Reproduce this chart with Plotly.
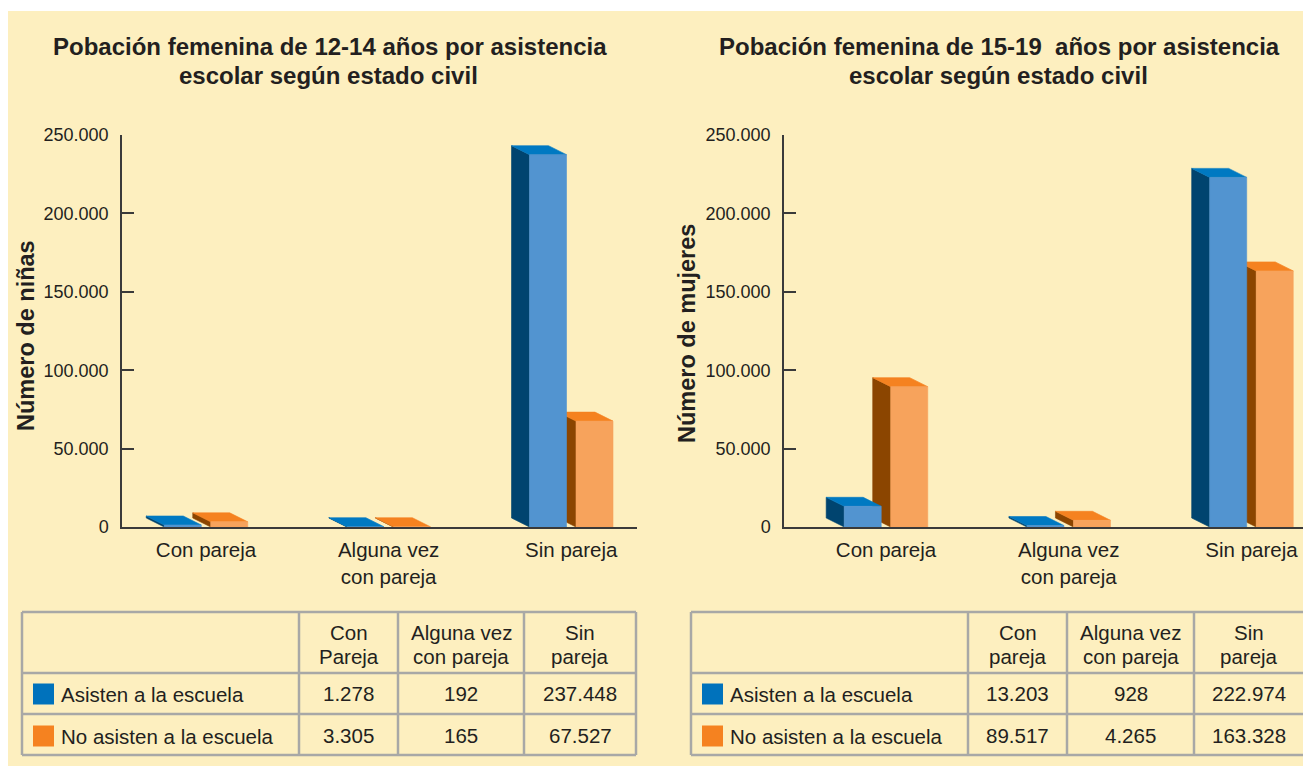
import plotly.graph_objects as go

W, H = 1303, 769

# ---------------- data ----------------
categorias = ["Con pareja", "Alguna vez<br>con pareja", "Sin pareja"]
asisten_12_14 = [1278, 192, 237448]
no_asisten_12_14 = [3305, 165, 67527]
asisten_15_19 = [13203, 928, 222974]
no_asisten_15_19 = [89517, 4265, 163328]
y_tickvals = [0, 50000, 100000, 150000, 200000, 250000]
y_ticktext = ["0", "50.000", "100.000", "150.000", "200.000", "250.000"]
titulo_12_14 = ["Pobación femenina de 12-14 años por asistencia", "escolar según estado civil"]
titulo_15_19 = ["Pobación femenina de 15-19  años por asistencia", "escolar según estado civil"]
ytitulo_12_14 = "Número de niñas"
ytitulo_15_19 = "Número de mujeres"
tabla_cols_12_14 = [["Con", "Pareja"], ["Alguna vez", "con pareja"], ["Sin", "pareja"]]
tabla_cols_15_19 = [["Con", "pareja"], ["Alguna vez", "con pareja"], ["Sin", "pareja"]]
series = ["Asisten a la escuela", "No asisten a la escuela"]

# ---------------- style ----------------
FONT = "Liberation Sans, Arial, Helvetica, sans-serif"
TXT = "#231F20"
CREAM = "#FDEFBF"
BLUE = dict(front="#5294D0", top="#0079C2", side="#00446F", legend="#0072BC")
ORANGE = dict(front="#F7A35C", top="#F58220", side="#8B4500", legend="#F58220")
GRID = "#A8A8A6"
AX = "#3A3A3A"

def px(x):
    return x / W

def py(y):
    return 1 - y / H

fig = go.Figure()

# bar geometry (in category units / value units)
HALF_GAP = 0.026
BAR_W = 0.2026
DX = -0.0986
DY = 5740


def add_bar(xa, ya, x0, x1, v, col):
    polys = [
        ([x0, x0, x0 + DX, x0 + DX, x0], [0, v, v + DY, DY, 0], col["side"]),
        ([x0, x1, x1 + DX, x0 + DX, x0], [v, v, v + DY, v + DY, v], col["top"]),
        ([x0, x1, x1, x0, x0], [0, 0, v, v, 0], col["front"]),
    ]
    for xs, ys, c in polys:
        fig.add_trace(go.Scatter(x=xs, y=ys, xaxis=xa, yaxis=ya, mode="lines",
                                 fill="toself", fillcolor=c,
                                 line=dict(width=0.6, color=c),
                                 hoverinfo="skip", showlegend=False))


def add_chart(xa, ya, asisten, no_asisten):
    for i in range(len(categorias)):
        c = i
        add_bar(xa, ya, c + HALF_GAP, c + HALF_GAP + BAR_W, no_asisten[i], ORANGE)
        add_bar(xa, ya, c - HALF_GAP - BAR_W, c - HALF_GAP, asisten[i], BLUE)


add_chart("x", "y", asisten_12_14, no_asisten_12_14)
add_chart("x2", "y2", asisten_15_19, no_asisten_15_19)

yaxis_common = dict(range=[0, 250000], tickvals=y_tickvals, ticktext=y_ticktext,
                    showgrid=False, zeroline=False, showline=True, linecolor=AX,
                    linewidth=1.5, ticks="inside", ticklen=12, tickwidth=1.5,
                    tickcolor=AX, tickfont=dict(family=FONT, size=18, color=TXT),
                    ticklabelstandoff=8, fixedrange=True, automargin=False)
xaxis_common = dict(tickvals=[0, 1, 2], ticktext=categorias, showgrid=False,
                    zeroline=False, showline=True, linecolor=AX, linewidth=1.5,
                    ticks="", tickfont=dict(family=FONT, size=20.5, color=TXT),
                    ticklabelstandoff=4, fixedrange=True, automargin=False)

fig.update_layout(
    width=W, height=H, autosize=False,
    margin=dict(l=0, r=0, t=0, b=0, pad=0, autoexpand=False),
    paper_bgcolor="white", plot_bgcolor="rgba(0,0,0,0)",
    showlegend=False,
    xaxis=dict(xaxis_common, domain=[px(122), px(637)], range=[-0.46, 2.36], anchor="y"),
    yaxis=dict(yaxis_common, domain=[py(527), py(135)], anchor="x"),
    xaxis2=dict(xaxis_common, domain=[px(784), 1.0], range=[-0.558, 2.282], anchor="y2"),
    yaxis2=dict(yaxis_common, domain=[py(527), py(135)], anchor="x2"),
)

shapes = []
# cream background
shapes.append(dict(type="rect", xref="paper", yref="paper", x0=px(8), x1=1.0,
                   y0=py(766), y1=py(11), fillcolor=CREAM, line=dict(width=0), layer="below"))

annotations = []


def ann(text, x, y, size, bold=False, xanchor="center", angle=0):
    annotations.append(dict(text=f"<b>{text}</b>" if bold else text, x=px(x), y=py(y),
                            xref="paper", yref="paper", xanchor=xanchor, yanchor="middle",
                            showarrow=False, textangle=angle,
                            font=dict(family=FONT, size=size, color=TXT)))


# titles
ann(titulo_12_14[0], 330, 47, 24, bold=True)
ann(titulo_12_14[1], 329, 75, 24, bold=True)
ann(titulo_15_19[0], 999, 47, 24, bold=True)
ann(titulo_15_19[1], 998, 75, 24, bold=True)
ann(ytitulo_12_14, 26, 336, 23.5, bold=True, angle=-90)
ann(ytitulo_15_19, 687, 334, 23.5, bold=True, angle=-90)


def line(x0, y0, x1, y1):
    shapes.append(dict(type="line", xref="paper", yref="paper", x0=px(x0), y0=py(y0),
                       x1=px(x1), y1=py(y1), line=dict(color=GRID, width=2.5), layer="above"))


def add_table(left, cols, right, right_border, headers, asisten, no_asisten, label_x, sq_x):
    top, r1, r2, bottom = 612, 673, 714, 755
    for yy in (top, r1, r2, bottom):
        line(left, yy, right, yy)
    line(left, top, left, bottom)
    for xx in cols:
        line(xx, top, xx, bottom)
    if right_border:
        line(right, top, right, bottom)
    edges = cols + [right]
    for j, hdr in enumerate(headers):
        cx = (edges[j] + edges[j + 1]) / 2
        ann(hdr[0], cx, 632, 20.5)
        ann(hdr[1], cx, 656, 20.5)
        ann(f"{asisten[j]:,}".replace(",", "."), cx, 693, 20.5)
        ann(f"{no_asisten[j]:,}".replace(",", "."), cx, 735, 20.5)
    for k, (name, col, yc) in enumerate([(series[0], BLUE, 694), (series[1], ORANGE, 736)]):
        ann(name, label_x, yc, 20.5, xanchor="left")
        shapes.append(dict(type="rect", xref="paper", yref="paper", x0=px(sq_x), x1=px(sq_x + 21),
                           y0=py(yc + 10.5), y1=py(yc - 10.5), fillcolor=col["legend"],
                           line=dict(width=0), layer="above"))


add_table(22, [299, 398, 524], 636, True, tabla_cols_12_14, asisten_12_14, no_asisten_12_14, 59, 33)
add_table(691, [968, 1067, 1194], 1303, False, tabla_cols_15_19, asisten_15_19, no_asisten_15_19, 728, 702)

fig.update_layout(shapes=shapes, annotations=annotations)
fig.write_html(
    "out.html",
    config={"responsive": False, "displayModeBar": False},
    post_script="document.body.style.margin='0';document.body.style.overflow='hidden';",
)
